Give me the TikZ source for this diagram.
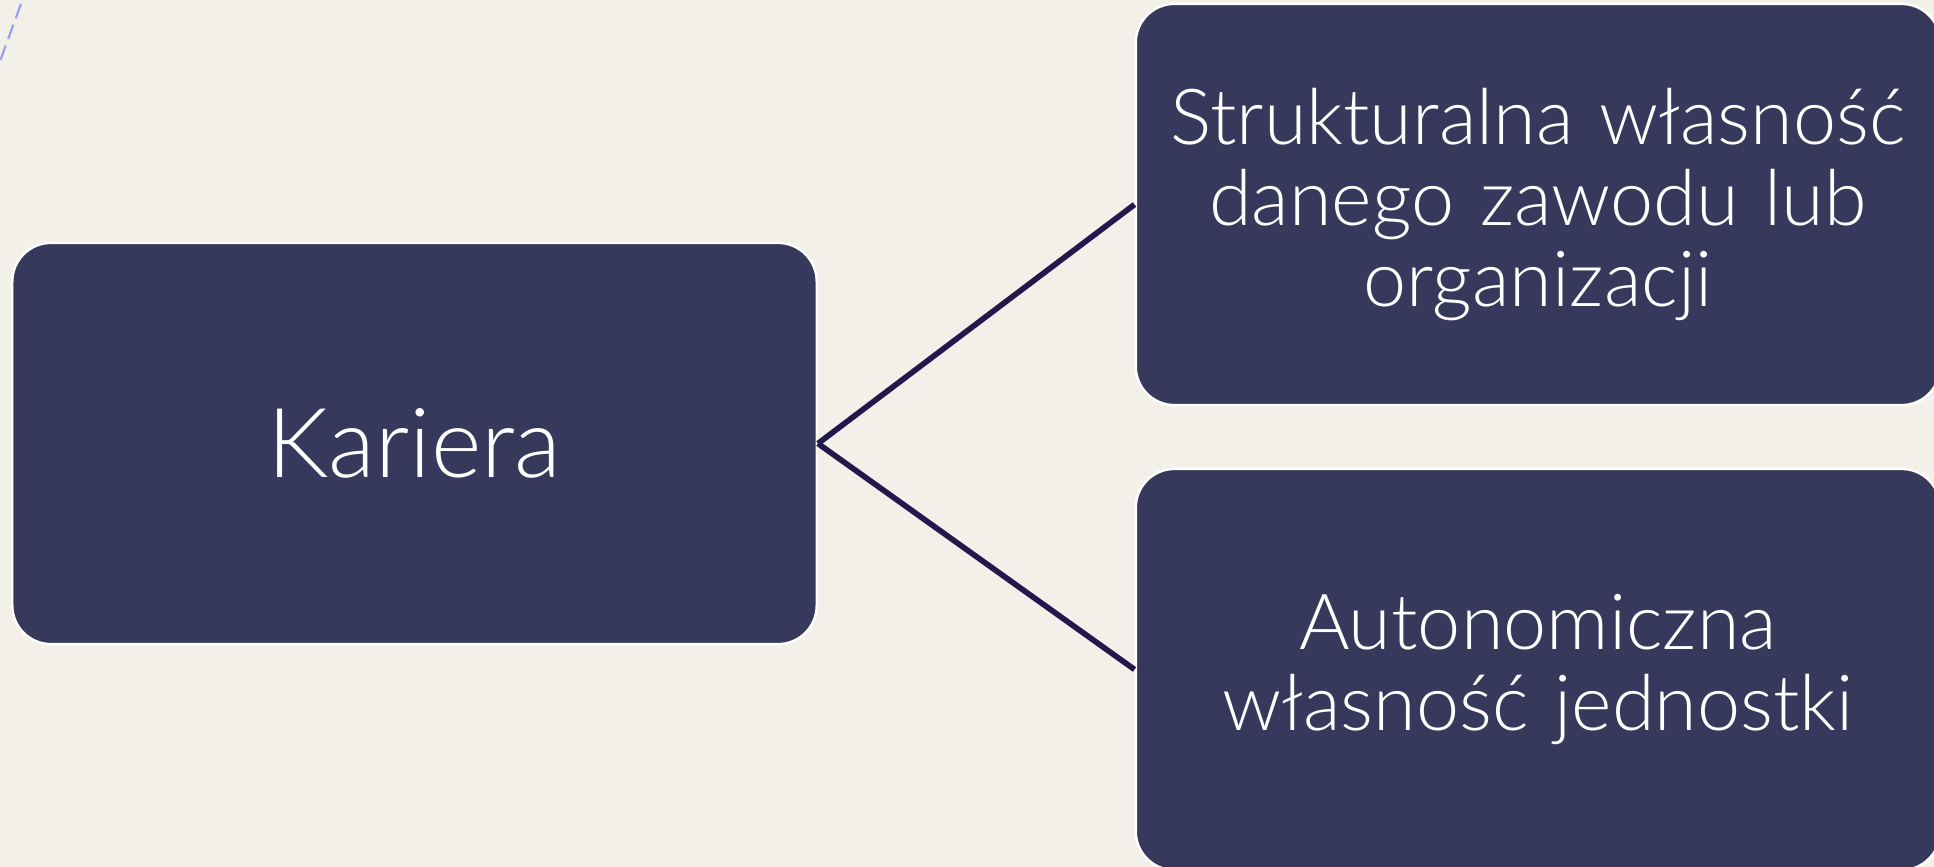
\documentclass[tikz,border=0pt]{standalone}
\usepackage{fontspec}
\setmainfont{Lato}[UprightFont=* Light]
\usepackage{tikz}
\usetikzlibrary{arrows.meta, calc}

\definecolor{pagebg}{HTML}{F3F0EA}
\definecolor{boxfill}{HTML}{36395B}
\definecolor{linkcol}{HTML}{22184C}
\definecolor{dashcol}{HTML}{9A9AEE}

\begin{document}
\begin{tikzpicture}[x=0.01cm, y=-0.01cm,
    box/.style={rounded corners=11pt, fill=boxfill, draw=white, line width=0.7pt,
      minimum width=8.04cm, minimum height=4.01cm, text=white, align=center,
      inner sep=0pt},
    link/.style={draw=linkcol, line width=1.6pt}]
  % Background and page size
  \fill[pagebg] (0,0) rectangle (1934,867);
  \useasboundingbox (0,0) rectangle (1934,867);
  % Decoration in the corner
  \draw[dashcol, line width=0.6pt, dash pattern=on 4.3pt off 2pt] (21,4) -- (-4,72);
  % Boxes
  \node[box, font=\fontsize{27.5}{30}\selectfont] (kariera) at (414.5,443.5) {Kariera};
  \node[box, text width=7.4cm, font=\fontsize{22}{23}\selectfont] (struct) at (1538,204.5)
    {Strukturalna własność\\danego zawodu lub\\organizacji};
  \node[box, text width=7.4cm, font=\fontsize{22}{23}\selectfont] (auton) at (1538,669.5)
    {Autonomiczna\\własność jednostki};
  % Links
  \draw[link] (kariera.east) -- (struct.west);
  \draw[link] (kariera.east) -- (auton.west);
\end{tikzpicture}
\end{document}
